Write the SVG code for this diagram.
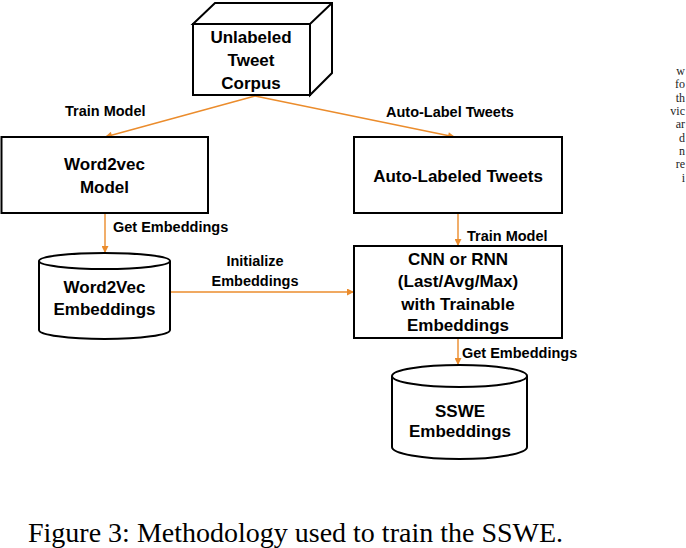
<svg xmlns="http://www.w3.org/2000/svg" width="686" height="548" viewBox="0 0 686 548">
<style>
.box{fill:#fff;stroke:#000;stroke-width:2}
.nt{font-family:"Liberation Sans",Arial,sans-serif;font-weight:bold;font-size:17px;fill:#000;text-anchor:middle}
.lb{font-family:"Liberation Sans",Arial,sans-serif;font-weight:bold;font-size:14.5px;fill:#000}
.cn{fill:none;stroke:#EB8C2C;stroke-width:1.4}
.cap{font-family:"Liberation Serif","Times New Roman",serif;font-size:28px;fill:#000}
.fr{font-family:"Liberation Serif","Times New Roman",serif;font-size:12px;fill:#222;text-anchor:end}
</style>
<defs>
<marker id="ah" viewBox="0 0 10 10" refX="10" refY="5" markerWidth="8" markerHeight="7" markerUnits="userSpaceOnUse" orient="auto">
<path d="M0,0 L10,5 L0,10 z" fill="#EB8C2C"/>
</marker>
</defs>
<rect width="686" height="548" fill="#fff"/>

<g id="connectors">
<line class="cn" x1="255" y1="96" x2="105" y2="137" marker-end="url(#ah)"/>
<line class="cn" x1="255" y1="96" x2="455" y2="137" marker-end="url(#ah)"/>
<line class="cn" x1="105" y1="213" x2="105" y2="253" marker-end="url(#ah)"/>
<line class="cn" x1="458" y1="213" x2="458" y2="246" marker-end="url(#ah)"/>
<line class="cn" x1="170" y1="292" x2="354" y2="292" marker-end="url(#ah)"/>
<line class="cn" x1="458" y1="338" x2="458" y2="365" marker-end="url(#ah)"/>
<text class="lb" x="65" y="116">Train Model</text>
<text class="lb" x="386" y="117">Auto-Label Tweets</text>
<text class="lb" x="113" y="232">Get Embeddings</text>
<text class="lb" x="467" y="241">Train Model</text>
<text class="lb" x="255" y="266" text-anchor="middle">Initialize</text>
<text class="lb" x="255" y="286" text-anchor="middle">Embeddings</text>
<text class="lb" x="462" y="358">Get Embeddings</text>
</g>

<g id="corpus">
<path class="box" d="M193,24 L215,3 L332,3 L332,73 L310,95 L310,24 Z M193,24 L310,24 L332,3"/>
<rect class="box" x="193" y="24" width="117" height="71"/>
<text class="nt" x="251" y="43">Unlabeled</text>
<text class="nt" x="251" y="66">Tweet</text>
<text class="nt" x="251" y="89">Corpus</text>
</g>

<g id="word2vec-model">
<rect class="box" x="1.5" y="137" width="206.5" height="76"/>
<text class="nt" x="104.5" y="170">Word2vec</text>
<text class="nt" x="104.5" y="193">Model</text>
</g>

<g id="auto-labeled">
<rect class="box" x="354" y="137" width="208" height="76"/>
<text class="nt" x="458" y="182">Auto-Labeled Tweets</text>
</g>

<g id="cnn-rnn">
<rect class="box" x="354" y="246" width="208" height="92"/>
<text class="nt" x="458" y="265">CNN or RNN</text>
<text class="nt" x="458" y="287">(Last/Avg/Max)</text>
<text class="nt" x="458" y="310">with Trainable</text>
<text class="nt" x="458" y="331">Embeddings</text>
</g>

<g id="word2vec-embeddings">
<path class="box" d="M39,261 L39,330 A65.5,9 0 0 0 170,330 L170,261 A65.5,8 0 0 0 39,261 Z"/>
<path d="M39,261 A65.5,8 0 0 0 170,261" fill="none" stroke="#000" stroke-width="2"/>
<text class="nt" x="104.5" y="293">Word2Vec</text>
<text class="nt" x="104.5" y="315">Embeddings</text>
</g>

<g id="sswe-embeddings">
<path class="box" d="M392,376 L392,447 A67.5,12 0 0 0 527,447 L527,376 A67.5,11 0 0 0 392,376 Z"/>
<path d="M392,376 A67.5,11 0 0 0 527,376" fill="none" stroke="#000" stroke-width="2"/>
<text class="nt" x="460" y="417">SSWE</text>
<text class="nt" x="460" y="437">Embeddings</text>
</g>

<text class="cap" x="28" y="542">Figure 3: Methodology used to train the SSWE.</text>

<g id="margin-fragments">
<text class="fr" x="685" y="75">w</text>
<text class="fr" x="685" y="88">fo</text>
<text class="fr" x="685" y="102">th</text>
<text class="fr" x="685" y="115">vic</text>
<text class="fr" x="685" y="128">ar</text>
<text class="fr" x="685" y="142">d</text>
<text class="fr" x="685" y="155">n</text>
<text class="fr" x="685" y="168">re</text>
<text class="fr" x="685" y="182">i</text>
</g>
</svg>
